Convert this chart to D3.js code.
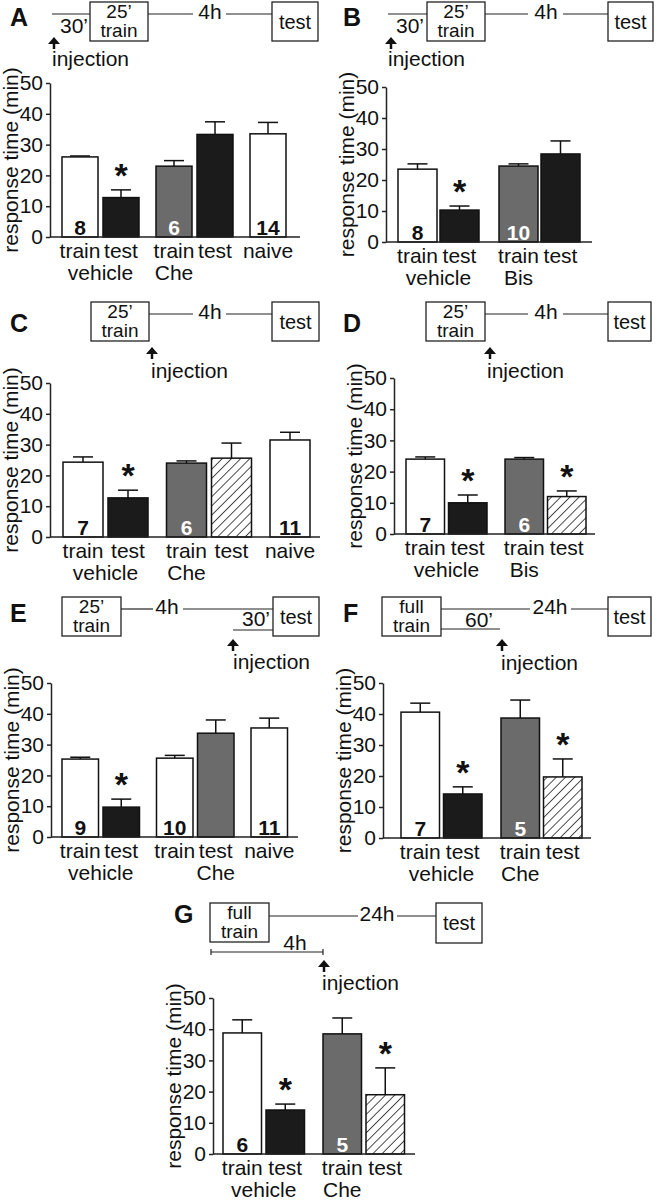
<!DOCTYPE html>
<html><head><meta charset="utf-8">
<script src="https://cdn.jsdelivr.net/npm/d3@7"></script>
<style>
body{margin:0;background:#fff}
svg{display:block}
text{font-family:"Liberation Sans",Arial,Helvetica,sans-serif;fill:#111}
</style>
</head><body>
<svg id="fig" width="658" height="1200"></svg>
<script>
// ================= DATA =================
const yTickValues = [0, 10, 20, 30, 40, 50];

// Panel A
const barLabelsA = ["train", "test", "train", "test", "naive"];
const groupOfA   = ["vehicle", "vehicle", "Che", "Che", "naive"];
const meanA      = [26, 12.8, 23, 33.3, 33.5];
const semA       = [0.3, 2.5, 1.8, 4.1, 3.7];
const nA         = [8, null, 6, null, 14];
const condA      = ["open", "solid", "drug", "solid", "open"];
const sigA       = [false, true, false, false, false];
const groupTextA = [{text: "vehicle", bars: [0, 1]}, {text: "Che", bars: [2]}];

// Panel B
const barLabelsB = ["train", "test", "train", "test"];
const groupOfB   = ["vehicle", "vehicle", "Bis", "Bis"];
const meanB      = [23.5, 10.3, 24.5, 28.4];
const semB       = [1.7, 1.3, 0.7, 4.2];
const nB         = [8, null, 10, null];
const condB      = ["open", "solid", "drug", "solid"];
const sigB       = [false, true, false, false];
const groupTextB = [{text: "vehicle", bars: [0, 1]}, {text: "Bis", bars: [2]}];

// Panel C
const barLabelsC = ["train", "test", "train", "test", "naive"];
const groupOfC   = ["vehicle", "vehicle", "Che", "Che", "naive"];
const meanC      = [24.3, 12.7, 24, 25.6, 31.5];
const semC       = [1.7, 2.5, 0.7, 4.9, 2.5];
const nC         = [7, null, 6, null, 11];
const condC      = ["open", "solid", "drug", "hatch", "open"];
const sigC       = [false, true, false, false, false];
const groupTextC = [{text: "vehicle", bars: [0, 1]}, {text: "Che", bars: [2]}];

// Panel D
const barLabelsD = ["train", "test", "train", "test"];
const groupOfD   = ["vehicle", "vehicle", "Bis", "Bis"];
const meanD      = [24, 10, 24, 12];
const semD       = [0.7, 2.5, 0.5, 1.8];
const nD         = [7, null, 6, null];
const condD      = ["open", "solid", "drug", "hatch"];
const sigD       = [false, true, false, true];
const groupTextD = [{text: "vehicle", bars: [0, 1]}, {text: "Bis", bars: [2]}];

// Panel E
const barLabelsE = ["train", "test", "train", "test", "naive"];
const groupOfE   = ["vehicle", "vehicle", "Che", "Che", "naive"];
const meanE      = [25.3, 9.7, 25.6, 33.7, 35.4];
const semE       = [0.6, 2.6, 0.9, 4.3, 3.2];
const nE         = [9, null, 10, null, 11];
const condE      = ["open", "solid", "open", "drug", "open"];
const sigE       = [false, true, false, false, false];
const groupTextE = [{text: "vehicle", bars: [0, 1]}, {text: "Che", bars: [3]}];

// Panel F
const barLabelsF = ["train", "test", "train", "test"];
const groupOfF   = ["vehicle", "vehicle", "Che", "Che"];
const meanF      = [40.6, 14.2, 38.7, 19.7];
const semF       = [2.9, 2.3, 5.8, 5.8];
const nF         = [7, null, 5, null];
const condF      = ["open", "solid", "drug", "hatch"];
const sigF       = [false, true, false, true];
const groupTextF = [{text: "vehicle", bars: [0, 1]}, {text: "Che", bars: [2]}];

// Panel G
const barLabelsG = ["train", "test", "train", "test"];
const groupOfG   = ["vehicle", "vehicle", "Che", "Che"];
const meanG      = [38.8, 14.1, 38.5, 19];
const semG       = [4.2, 1.9, 5.1, 8.6];
const nG         = [6, null, 5, null];
const condG      = ["open", "solid", "drug", "hatch"];
const sigG       = [false, true, false, true];
const groupTextG = [{text: "vehicle", bars: [0, 1]}, {text: "Che", bars: [2]}];

const yTitle = "response time (min)";

// ================= LAYOUT / STYLE =================
const FONT = 21;
const fillFor = {open: "#ffffff", solid: "#1b1b1b", drug: "#6b6b6b", hatch: "url(#hatch)"};
const nColorFor = {open: "#111", drug: "#fff"};

const panels = [
  {id: "A", labels: barLabelsA, groups: groupOfA, mean: meanA, sem: semA, n: nA, cond: condA, sig: sigA, gtext: groupTextA,
   L: {axisX: 50, yTop: 83, yBot: 237, xEnd: 300, first: 62, barW: 36, inner: 41, pitch: 94, lab: [10, 26]},
   T: [
     {t: "line", x1: 52, y1: 14, x2: 90, y2: 14},
     {t: "box", x: 90, y: 2, w: 58, h: 39, lines: ["25\u2019", "train"]},
     {t: "line", x1: 148, y1: 14, x2: 193, y2: 14},
     {t: "text", x: 210, y: 19, s: "4h"},
     {t: "line", x1: 226, y1: 14, x2: 272, y2: 14},
     {t: "box", x: 272, y: 2, w: 46, h: 39, lines: ["test"]},
     {t: "text", x: 74, y: 33, s: "30\u2019"},
     {t: "arrow", x: 54, y: 37, y2: 49},
     {t: "text", x: 52, y: 66, s: "injection", a: "start"}
   ]},
  {id: "B", labels: barLabelsB, groups: groupOfB, mean: meanB, sem: semB, n: nB, cond: condB, sig: sigB, gtext: groupTextB,
   L: {axisX: 386, yTop: 87, yBot: 242, xEnd: 592, first: 398, barW: 39, inner: 42, pitch: 101, lab: [343, 26]},
   T: [
     {t: "line", x1: 388, y1: 14, x2: 427, y2: 14},
     {t: "box", x: 427, y: 2, w: 58, h: 39, lines: ["25\u2019", "train"]},
     {t: "line", x1: 485, y1: 14, x2: 528, y2: 14},
     {t: "text", x: 546, y: 19, s: "4h"},
     {t: "line", x1: 563, y1: 14, x2: 608, y2: 14},
     {t: "box", x: 608, y: 2, w: 45, h: 39, lines: ["test"]},
     {t: "text", x: 410, y: 33, s: "30\u2019"},
     {t: "arrow", x: 391, y: 37, y2: 49},
     {t: "text", x: 388, y: 66, s: "injection", a: "start"}
   ]},
  {id: "C", labels: barLabelsC, groups: groupOfC, mean: meanC, sem: semC, n: nC, cond: condC, sig: sigC, gtext: groupTextC,
   L: {axisX: 50, yTop: 383, yBot: 537, xEnd: 320, first: 63, barW: 40, inner: 45, pitch: 103.5, lab: [10, 332]},
   T: [
     {t: "box", x: 91, y: 302, w: 58, h: 39, lines: ["25\u2019", "train"]},
     {t: "line", x1: 149, y1: 314, x2: 193, y2: 314},
     {t: "text", x: 210, y: 319, s: "4h"},
     {t: "line", x1: 226, y1: 314, x2: 272, y2: 314},
     {t: "box", x: 272, y: 302, w: 47, h: 39, lines: ["test"]},
     {t: "arrow", x: 152, y: 347, y2: 359},
     {t: "text", x: 151, y: 378, s: "injection", a: "start"}
   ]},
  {id: "D", labels: barLabelsD, groups: groupOfD, mean: meanD, sem: semD, n: nD, cond: condD, sig: sigD, gtext: groupTextD,
   L: {axisX: 394, yTop: 378, yBot: 534, xEnd: 595, first: 406, barW: 38.5, inner: 42.5, pitch: 99, lab: [343, 332]},
   T: [
     {t: "box", x: 426, y: 302, w: 59, h: 39, lines: ["25\u2019", "train"]},
     {t: "line", x1: 485, y1: 314, x2: 528, y2: 314},
     {t: "text", x: 546, y: 319, s: "4h"},
     {t: "line", x1: 563, y1: 314, x2: 608, y2: 314},
     {t: "box", x: 608, y: 302, w: 43, h: 39, lines: ["test"]},
     {t: "arrow", x: 490, y: 347, y2: 359},
     {t: "text", x: 487, y: 378, s: "injection", a: "start"}
   ]},
  {id: "E", labels: barLabelsE, groups: groupOfE, mean: meanE, sem: semE, n: nE, cond: condE, sig: sigE, gtext: groupTextE,
   L: {axisX: 51, yTop: 683, yBot: 837, xEnd: 298, first: 62, barW: 36.5, inner: 41, pitch: 94.5, lab: [10, 622]},
   T: [
     {t: "box", x: 62, y: 597, w: 59, h: 39, lines: ["25\u2019", "train"]},
     {t: "line", x1: 121, y1: 609, x2: 153, y2: 609},
     {t: "text", x: 167, y: 614, s: "4h"},
     {t: "line", x1: 183, y1: 609, x2: 273, y2: 609},
     {t: "box", x: 273, y: 597, w: 46, h: 39, lines: ["test"]},
     {t: "line", x1: 233, y1: 630, x2: 273, y2: 630},
     {t: "text", x: 256, y: 626, s: "30\u2019"},
     {t: "arrow", x: 233, y: 639, y2: 651},
     {t: "text", x: 233, y: 669, s: "injection", a: "start"}
   ]},
  {id: "F", labels: barLabelsF, groups: groupOfF, mean: meanF, sem: semF, n: nF, cond: condF, sig: sigF, gtext: groupTextF,
   L: {axisX: 383, yTop: 683, yBot: 838, xEnd: 591, first: 401, barW: 38.5, inner: 42.5, pitch: 100, lab: [343, 622]},
   T: [
     {t: "box", x: 382, y: 597, w: 59, h: 39, lines: ["full", "train"]},
     {t: "line", x1: 441, y1: 609, x2: 530, y2: 609},
     {t: "text", x: 550, y: 614, s: "24h"},
     {t: "line", x1: 571, y1: 609, x2: 608, y2: 609},
     {t: "box", x: 608, y: 597, w: 43, h: 39, lines: ["test"]},
     {t: "line", x1: 441, y1: 629, x2: 500, y2: 629},
     {t: "text", x: 479, y: 627, s: "60\u2019"},
     {t: "arrow", x: 502, y: 639, y2: 651},
     {t: "text", x: 501, y: 670, s: "injection", a: "start"}
   ]},
  {id: "G", labels: barLabelsG, groups: groupOfG, mean: meanG, sem: semG, n: nG, cond: condG, sig: sigG, gtext: groupTextG,
   L: {axisX: 213, yTop: 998, yBot: 1154, xEnd: 415, first: 223, barW: 38.5, inner: 43, pitch: 100, lab: [174, 923]},
   T: [
     {t: "box", x: 210, y: 903, w: 59, h: 39, lines: ["full", "train"]},
     {t: "line", x1: 269, y1: 916, x2: 358, y2: 916},
     {t: "text", x: 377, y: 921, s: "24h"},
     {t: "line", x1: 397, y1: 916, x2: 436, y2: 916},
     {t: "box", x: 436, y: 903, w: 46, h: 40, lines: ["test"]},
     {t: "bracket", x1: 211, x2: 323, y: 952},
     {t: "text", x: 295, y: 950, s: "4h"},
     {t: "arrow", x: 324, y: 960, y2: 972},
     {t: "text", x: 322, y: 990, s: "injection", a: "start"}
   ]}
];

// ================= DRAW =================
const svg = d3.select("#fig");
const defs = svg.append("defs");
const pat = defs.append("pattern").attr("id", "hatch").attr("patternUnits", "userSpaceOnUse")
  .attr("width", 6.5).attr("height", 6.5).attr("patternTransform", "rotate(45)");
pat.append("rect").attr("width", 6.5).attr("height", 6.5).attr("fill", "#fff");
pat.append("line").attr("x1", 0).attr("y1", 0).attr("x2", 0).attr("y2", 6.5)
  .attr("stroke", "#111").attr("stroke-width", 1.5);

function drawTimeline(g, items) {
  items.forEach(it => {
    if (it.t === "line") {
      g.append("line").attr("x1", it.x1).attr("y1", it.y1).attr("x2", it.x2).attr("y2", it.y2)
        .attr("stroke", "#222").attr("stroke-width", 1.2);
    } else if (it.t === "box") {
      g.append("rect").attr("x", it.x).attr("y", it.y).attr("width", it.w).attr("height", it.h)
        .attr("fill", "#fff").attr("stroke", "#222").attr("stroke-width", 1.3);
      if (it.lines.length === 2) {
        g.append("text").attr("x", it.x + it.w / 2).attr("y", it.y + 16).attr("text-anchor", "middle")
          .attr("font-size", 19).text(it.lines[0]);
        g.append("text").attr("x", it.x + it.w / 2).attr("y", it.y + 35).attr("text-anchor", "middle")
          .attr("font-size", 19).text(it.lines[1]);
      } else {
        g.append("text").attr("x", it.x + it.w / 2).attr("y", it.y + it.h / 2 + 7).attr("text-anchor", "middle")
          .attr("font-size", 20).text(it.lines[0]);
      }
    } else if (it.t === "text") {
      g.append("text").attr("x", it.x).attr("y", it.y).attr("text-anchor", it.a || "middle")
        .attr("font-size", FONT).text(it.s);
    } else if (it.t === "arrow") {
      g.append("line").attr("x1", it.x).attr("y1", it.y + 5).attr("x2", it.x).attr("y2", it.y2)
        .attr("stroke", "#111").attr("stroke-width", 2.5);
      g.append("path").attr("d", `M${it.x},${it.y} L${it.x + 6},${it.y + 7} L${it.x - 6},${it.y + 7} Z`)
        .attr("fill", "#111");
    } else if (it.t === "bracket") {
      g.append("line").attr("x1", it.x1).attr("y1", it.y).attr("x2", it.x2).attr("y2", it.y)
        .attr("stroke", "#222").attr("stroke-width", 1.2);
      [it.x1, it.x2].forEach(x => g.append("line").attr("x1", x).attr("x2", x)
        .attr("y1", it.y - 3).attr("y2", it.y + 3).attr("stroke", "#222").attr("stroke-width", 1.2));
    }
  });
}

function drawPanel(p) {
  const L = p.L;
  const g = svg.append("g").attr("class", "panel-" + p.id);

  // panel letter
  g.append("text").attr("x", L.lab[0]).attr("y", L.lab[1]).attr("font-size", 25)
    .attr("font-weight", "bold").text(p.id);

  drawTimeline(g, p.T);

  // scales
  const y = d3.scaleLinear().domain([0, 50]).range([L.yBot, L.yTop]);
  const groupNames = Array.from(new Set(p.groups));
  const groupW = L.inner + L.barW;
  const outer = d3.scaleBand().domain(groupNames)
    .range([L.first, L.first + (groupNames.length - 1) * L.pitch + groupW])
    .paddingInner((L.pitch - groupW) / L.pitch).paddingOuter(0);
  const inner = d3.scaleBand().domain([0, 1]).range([0, groupW])
    .paddingInner((L.inner - L.barW) / L.inner).paddingOuter(0);

  const bars = p.mean.map((m, i) => {
    const grp = p.groups[i];
    const idx = p.groups.slice(0, i).filter(q => q === grp).length;
    const x0 = outer(grp) + inner(idx);
    return {i, m, e: p.sem[i], n: p.n[i], cond: p.cond[i], sig: p.sig[i], label: p.labels[i],
            x0, w: inner.bandwidth(), cx: x0 + inner.bandwidth() / 2};
  });

  // error bars (drawn first, bar covers lower end)
  const eg = g.append("g");
  bars.forEach(b => {
    eg.append("line").attr("x1", b.cx).attr("x2", b.cx).attr("y1", y(b.m)).attr("y2", y(b.m + b.e))
      .attr("stroke", "#111").attr("stroke-width", 1.5);
    eg.append("line").attr("x1", b.cx - 10).attr("x2", b.cx + 10).attr("y1", y(b.m + b.e)).attr("y2", y(b.m + b.e))
      .attr("stroke", "#111").attr("stroke-width", 1.5);
  });

  // bars
  g.append("g").selectAll("rect").data(bars).join("rect")
    .attr("x", d => d.x0).attr("width", d => d.w)
    .attr("y", d => y(d.m)).attr("height", d => y(0) - y(d.m))
    .attr("fill", d => fillFor[d.cond]).attr("stroke", "#111").attr("stroke-width", 1.5);

  // n labels
  g.append("g").selectAll("text").data(bars.filter(d => d.n != null)).join("text")
    .attr("x", d => d.cx).attr("y", L.yBot - 2).attr("text-anchor", "middle")
    .attr("font-size", FONT).attr("font-weight", "bold")
    .style("fill", d => nColorFor[d.cond] || "#111").text(d => d.n);

  // significance stars
  g.append("g").selectAll("text").data(bars.filter(d => d.sig)).join("text")
    .attr("x", d => d.cx).attr("y", d => y(d.m + d.e) - 3).attr("text-anchor", "middle")
    .attr("font-size", 34).attr("font-weight", "bold").text("*");

  // y axis
  const ax = g.append("g").attr("transform", `translate(${L.axisX},0)`)
    .call(d3.axisLeft(y).tickValues(yTickValues).tickSize(4).tickSizeOuter(0).tickPadding(3));
  ax.select(".domain").attr("stroke", "#222").attr("stroke-width", 1.5);
  ax.selectAll(".tick line").attr("stroke", "#222").attr("stroke-width", 1.5);
  ax.selectAll(".tick text").attr("font-size", FONT)
    .attr("font-family", '"Liberation Sans",Arial,sans-serif').style("fill", "#111");

  // x axis line
  g.append("line").attr("x1", L.axisX).attr("x2", L.xEnd).attr("y1", y(0)).attr("y2", y(0))
    .attr("stroke", "#222").attr("stroke-width", 1.5);

  // bar category labels
  g.append("g").selectAll("text").data(bars).join("text")
    .attr("x", d => d.cx).attr("y", L.yBot + 21).attr("text-anchor", "middle")
    .attr("font-size", FONT).text(d => d.label);

  // group labels
  p.gtext.forEach(gt => {
    const cxs = gt.bars.map(k => bars[k].cx);
    g.append("text").attr("x", d3.mean(cxs)).attr("y", L.yBot + 43).attr("text-anchor", "middle")
      .attr("font-size", FONT).text(gt.text);
  });

  // y title
  g.append("text").attr("transform", `translate(${L.axisX - 32},${(L.yTop + L.yBot) / 2}) rotate(-90)`)
    .attr("text-anchor", "middle").attr("font-size", FONT).text(yTitle);
}

panels.forEach(drawPanel);
</script>
</body></html>
